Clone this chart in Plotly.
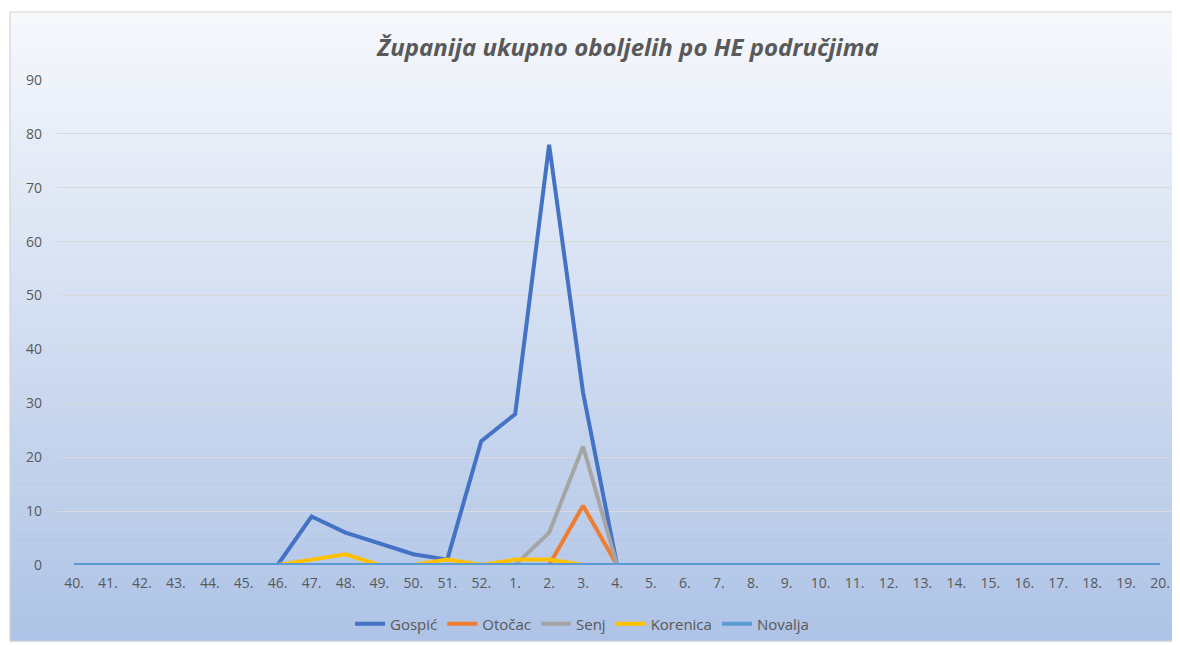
import plotly.graph_objects as go

weeks = [f"{w}." for w in range(40, 53)] + [f"{w}." for w in range(1, 21)]

gospic =   [0,0,0,0,0,0,0, 9,6,4,2,1,23, 28,78,32,0] + [0]*16
otocac =   [0,0,0,0,0,0,0, 0,0,0,0,0,0, 0,0,11,0] + [0]*16
senj =     [0,0,0,0,0,0,0, 0,0,0,0,0,0, 0,6,22,0] + [0]*16
korenica = [0,0,0,0,0,0,0, 1,2,0,0,1,0, 1,1,0,0] + [0]*16
novalja =  [0]*33

series = [
    ("Gospić", gospic, "#4472C4"),
    ("Otočac", otocac, "#ED7D31"),
    ("Senj", senj, "#A5A5A5"),
    ("Korenica", korenica, "#FFC000"),
    ("Novalja", novalja, "#5B9BD5"),
]

OFF = 8  # page body margin
W, H = 1180 - OFF, 645 - OFF
L, R, T, B = 57 - OFF, 1177 - OFF, 80 - OFF, 565 - OFF  # plot area pixels

def px2paper_x(px):
    return (px - OFF - L) / (R - L)

def px2paper_y(py):
    return (B - (py - OFF)) / (B - T)

fig = go.Figure()
for name, vals, col in series:
    fig.add_trace(go.Scatter(x=weeks, y=vals, mode="lines", name=name,
                             line=dict(color=col, width=4)))

# gradient background of chart area
top_c = (246, 248, 252)
bot_c = (174, 195, 230)
y0p, y1p = 12, 641
x0p, x1p = 10, 1178
N = 90
shapes = []
for i in range(N):
    t = i / (N - 1)
    c = tuple(round(top_c[k] + (bot_c[k] - top_c[k]) * t) for k in range(3))
    ya = y0p + (y1p - y0p) * i / N
    yb = y0p + (y1p - y0p) * (i + 1) / N + 0.6
    shapes.append(dict(type="rect", xref="paper", yref="paper", layer="below",
                       x0=px2paper_x(x0p), x1=px2paper_x(x1p),
                       y0=px2paper_y(yb), y1=px2paper_y(ya),
                       line=dict(width=0), fillcolor=f"rgb{c}"))
shapes.append(dict(type="rect", xref="paper", yref="paper", layer="below",
                   x0=px2paper_x(x0p), x1=px2paper_x(x1p),
                   y0=px2paper_y(y1p), y1=px2paper_y(y0p),
                   line=dict(width=1.2, color="#d4d4d4"), fillcolor="rgba(0,0,0,0)"))

font_fam = "Open Sans, sans-serif"
fig.update_layout(
    width=W, height=H,
    margin=dict(l=L, r=W - R, t=T, b=H - B),
    paper_bgcolor="white", plot_bgcolor="rgba(0,0,0,0)",
    shapes=shapes,
    title=dict(text="<b><i>Županija ukupno oboljelih po HE područjima</i></b>",
               x=px2paper_x(628), xref="paper", xanchor="center",
               y=1 - (48 - OFF) / H, yanchor="middle",
               font=dict(family=font_fam, size=24, color="#595959")),
    font=dict(family=font_fam, size=14, color="#595959"),
    showlegend=True,
    legend=dict(orientation="h", x=px2paper_x(582), xanchor="center",
                y=px2paper_y(624), yanchor="middle",
                bgcolor="rgba(0,0,0,0)", font=dict(size=15, color="#595959"),
                itemwidth=30, tracegroupgap=0),
    xaxis=dict(type="category", range=[-0.5, 32.5], showgrid=False,
               showline=False, zeroline=False, ticks="",
               ticklabelstandoff=8,
               tickfont=dict(size=14, color="#595959")),
    yaxis=dict(range=[0, 90], dtick=10, showgrid=True, gridcolor="#d9d9d9",
               gridwidth=1, zeroline=False, showline=False, ticks="",
               ticklabelstandoff=14,
               tickfont=dict(size=14, color="#595959")),
)

fig.write_html("out.html")
